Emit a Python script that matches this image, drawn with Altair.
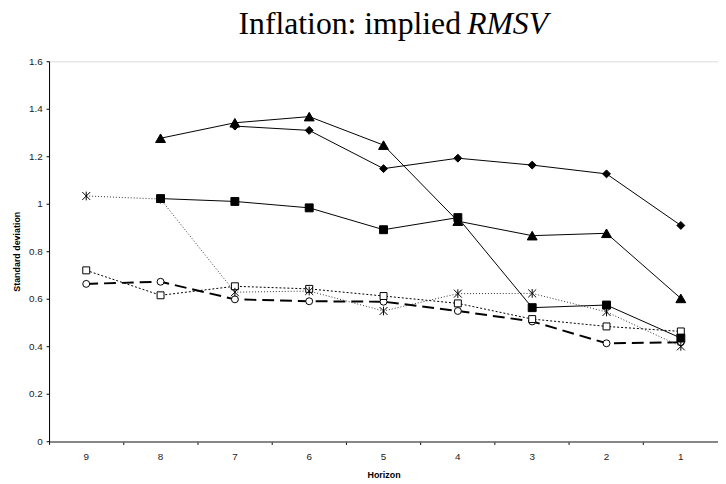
import altair as alt
import pandas as pd

horizons = ["9", "8", "7", "6", "5", "4", "3", "2", "1"]

diamond_vals = [None, None, 1.327, 1.309, 1.148, 1.192, 1.163, 1.126, 0.909]
triangle_vals = [None, 1.276, 1.341, 1.367, 1.247, 0.927, 0.866, 0.876, 0.602]
fsquare_vals = [None, 1.022, 1.010, 0.983, 0.891, 0.942, 0.563, 0.574, 0.435]
star_vals = [1.033, 1.020, 0.628, 0.633, 0.549, 0.622, 0.623, 0.545, 0.400]
hsquare_vals = [0.720, 0.615, 0.653, 0.642, 0.612, 0.581, 0.515, 0.484, 0.463]
circle_vals = [0.663, 0.672, 0.598, 0.590, 0.588, 0.549, 0.505, 0.413, 0.417]

y_ticks = [0, 0.2, 0.4, 0.6, 0.8, 1.0, 1.2, 1.4, 1.6]

ASTERISK = "M-1,-1L1,1M1,-1L-1,1M0,-1.1L0,1.1"

xenc = alt.X(
    "h:O",
    sort=horizons,
    scale=alt.Scale(type="band", domain=horizons, paddingInner=0, paddingOuter=0),
    axis=alt.Axis(
        title="Horizon",
        labelAngle=0,
        bandPosition=0,
        tickSize=3,
        labelPadding=7,
        labelFont="Liberation Sans",
        labelFontSize=10,
        labelColor="#222222",
        titleFont="Liberation Sans",
        titleFontSize=9,
        titleFontWeight="bold",
        titleColor="#000000",
        titleBaseline="alphabetic",
        titleY=36.5,
        domainColor="#666666",
        domainWidth=1.5,
        tickColor="#000000",
        grid=False,
    ),
)

yenc = alt.Y(
    "v:Q",
    scale=alt.Scale(domain=[0, 1.6], nice=False, zero=True),
    axis=alt.Axis(
        title="Standard deviation",
        values=y_ticks,
        format=".1~f",
        tickSize=3,
        labelPadding=4,
        labelFont="Liberation Sans",
        labelFontSize=10,
        labelColor="#222222",
        titleFont="Liberation Sans",
        titleFontSize=9,
        titleFontWeight="bold",
        titleColor="#000000",
        titleX=-32.5,
        titleY=192,
        titleBaseline="middle",
        titleAngle=270,
        domainColor="#000000",
        tickColor="#000000",
        grid=False,
    ),
)


def frame(vals):
    return pd.DataFrame(
        [{"h": h, "v": v} for h, v in zip(horizons, vals) if v is not None]
    )


def series(vals, shape, size, filled, dash, width=1.0, lcolor="#000000"):
    df = frame(vals)
    base = alt.Chart(df).encode(x=xenc, y=yenc)
    line_kw = dict(color=lcolor, strokeWidth=width)
    if dash:
        line_kw["strokeDash"] = dash
    line = base.mark_line(**line_kw)
    pt = base.mark_point(
        shape=shape,
        size=size,
        filled=True,
        fill="#000000" if filled else "#ffffff",
        stroke="#000000",
        strokeWidth=1,
        opacity=1,
    )
    return line, pt


layers = []
specs = [
    (circle_vals, "circle", 49, False, [12, 6], 2.0, "#000000"),
    (hsquare_vals, "square", 49, False, [2, 2], 1.0, "#000000"),
    (star_vals, ASTERISK, 64, False, [1, 2], 1.0, "#333333"),
    (fsquare_vals, "square", 64, True, None, 1.0, "#000000"),
    (triangle_vals, "triangle-up", 100, True, None, 1.0, "#000000"),
    (diamond_vals, "diamond", 64, True, None, 1.0, "#000000"),
]
lines = []
points = []
for vals, shape, size, filled, dash, w, lc in specs:
    l, p = series(vals, shape, size, filled, dash, w, lc)
    lines.append(l)
    points.append(p)

title_df = pd.DataFrame({"t": ["Inflation: implied "]})
title_it_df = pd.DataFrame({"t": ["RMSV"]})

title1 = alt.Chart(title_df).mark_text(
    font="Liberation Serif", fontSize=32, align="left", baseline="alphabetic", color="#000000"
).encode(text="t:N", x=alt.value(191.5), y=alt.value(-27.6))
title2 = alt.Chart(title_it_df).mark_text(
    font="Liberation Serif", fontSize=32, fontStyle="italic", align="left",
    baseline="alphabetic", color="#000000"
).encode(text="t:N", x=alt.value(422.5), y=alt.value(-27.6))

chart = alt.layer(*lines, *points, title1, title2).properties(
    width=676,
    height=384.2,
    autosize=alt.AutoSizeParams(type="none"),
    padding={"left": 41.5, "top": 51.3, "right": 0, "bottom": 40},
).configure_view(stroke=None).configure(background="#ffffff")

chart.save("out.html", embed_options={"renderer": "svg", "actions": False})
